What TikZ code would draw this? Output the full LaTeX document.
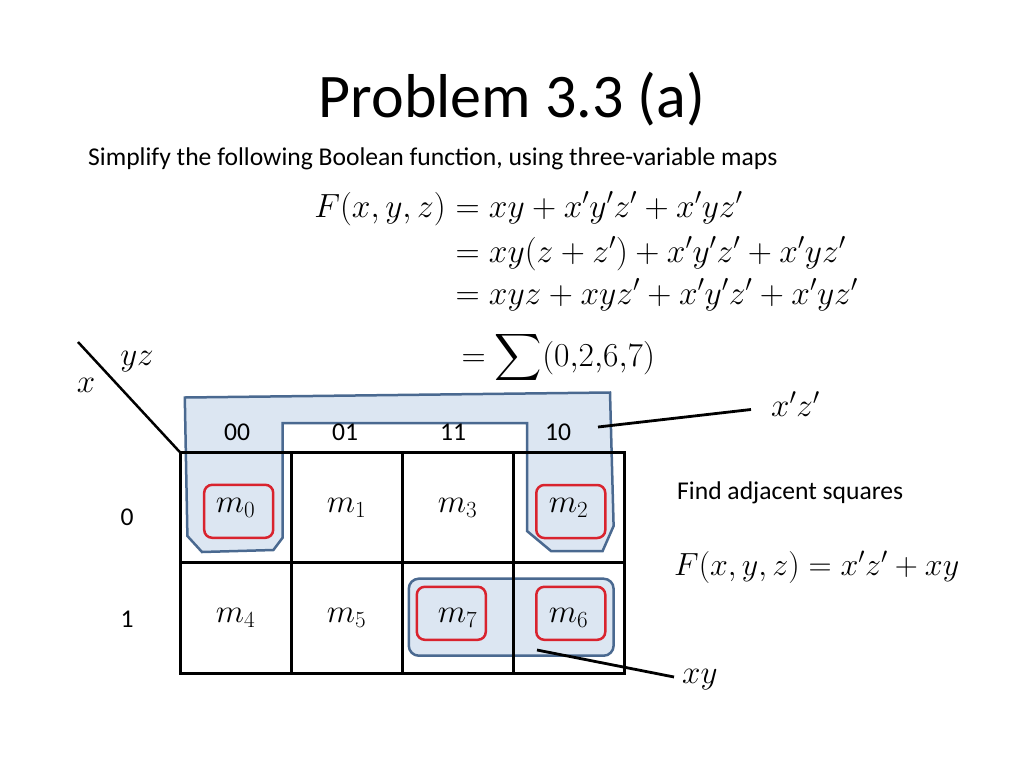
\RequirePackage{fix-cm}
\documentclass[tikz,border=0pt]{standalone}
\usepackage{amsmath}
\usepackage{graphicx}
\usepackage{fontspec}
\setmainfont{Carlito}
\usepackage{tikz}
\usetikzlibrary{positioning,calc}
\definecolor{kmapfill}{HTML}{DCE6F2}
\definecolor{kmapedge}{HTML}{4A6990}
\definecolor{kmapred}{HTML}{D9232E}
\newcommand{\titlefont}{\fontsize{62}{68}\selectfont}
\newcommand{\bodyfont}{\fontsize{25.6}{30}\selectfont}
\newcommand{\eqnfont}{\fontsize{33.5}{38}\selectfont}
\newcommand{\cellfont}{\fontsize{33}{38}\selectfont}
\newcommand{\bigsum}{\mathop{\vcenter{\hbox{\scalebox{1.32}{$\displaystyle\sum$}}}}}
\tikzset{
  cellbox/.style={
    draw=black,
    line width=3pt,
    minimum width=111pt,
    minimum height=110.5pt,
    inner sep=0pt,
    outer sep=0pt,
    font=\cellfont
  },
  minbox/.style={
    draw=kmapred,
    line width=2.5pt,
    rounded corners=8pt,
    minimum width=69pt,
    minimum height=53pt
  },
  groupbox/.style={
    draw=kmapedge,
    fill=kmapfill,
    line width=2.5pt,
    rounded corners=10pt
  },
  pointer/.style={
    line width=2.8pt,
    draw=black
  },
  plain/.style={
    inner sep=0pt,
    font=\bodyfont
  },
  eqn/.style={
    inner sep=0pt,
    font=\eqnfont
  }
}

\begin{document}
\begin{tikzpicture}[x=1pt,y=1pt,node distance=0pt]
\useasboundingbox (0,0) rectangle (1024,-768);
\fill[white] (0,0) rectangle (1024,-768);

% headings
\node[inner sep=0pt, font=\titlefont, anchor=base] (title) at (512,-117) {Problem 3.3 (a)};
\node[plain, anchor=base west] (task) at (88,-165) {Simplify the following Boolean function, using three-variable maps};

% derivation
\node[eqn, anchor=base east] (eqlhs) at (446,-217) {$F(x,y,z)$};
\node[eqn, anchor=base west] (eq1) at (446,-217) {${}= xy + x'y'z' + x'yz'$};
\node[eqn, anchor=base west] (eq2) at (446,-262) {${}= xy(z + z') + x'y'z' + x'yz'$};
\node[eqn, anchor=base west] (eq3) at (446,-304) {${}= xyz + xyz' + x'y'z' + x'yz'$};
\node[eqn, anchor=base west] (eq4) at (452,-366) {${}= \bigsum(0{,}2{,}6{,}7)$};

% groups behind the map
\draw[groupbox, rounded corners=0pt] (184.8,-397.5) -- (610,-392.5) -- (613.6,-526) -- (602.6,-551) -- (551,-551) -- (527,-531) -- (527,-423) -- (282.6,-423) -- (282.6,-537.7) -- (273.4,-550) -- (202,-552) -- (187.4,-536) -- cycle;
\node[groupbox, minimum width=204.8pt, minimum height=77pt] (grpxy) at (511.2,-617.2) {};

% map cells
\node[cellbox] (c0) at (235.5,-507.5) {$m_0$};
\node[cellbox, right=of c0] (c1) {$m_1$};
\node[cellbox, right=of c1] (c3) {$m_3$};
\node[cellbox, right=of c3] (c2) {$m_2$};
\node[cellbox, below=of c0] (c4) {$m_4$};
\node[cellbox, right=of c4] (c5) {$m_5$};
\node[cellbox, right=of c5] (c7) {$m_7$};
\node[cellbox, right=of c7] (c6) {$m_6$};

% chosen minterms
\node[minbox] (r0) at (238.7,-511.3) {};
\node[minbox] (r2) at (570.8,-511.5) {};
\node[minbox] (r7) at (451.3,-613.3) {};
\node[minbox] (r6) at (570.8,-613.3) {};

% map labels
\coordinate (diagtop) at (78,-342);
\draw[pointer, line width=2.5pt] (diagtop) -- (c0.north west);
\node[eqn, font=\cellfont] (lyz) at (137,-362) {$yz$};
\node[eqn, font=\cellfont] (lx) at (86,-385) {$x$};
\node[plain] (h0) at (237,-432) {00};
\node[plain] (h1) at (345,-432) {01};
\node[plain] (h3) at (453,-432) {11};
\node[plain] (h2) at (558,-432) {10};
\node[plain] (v0) at (127,-517) {0};
\node[plain] (v1) at (127,-619) {1};

% group names
\node[eqn, font=\cellfont, anchor=west] (xzlab) at (771,-404) {$x'z'$};
\coordinate (xzpt) at (598,-427);
\draw[pointer] (xzpt) -- ($(xzlab.west)+(-20,-5.5)$);
\node[eqn, font=\cellfont, anchor=west] (xylab) at (682,-680) {$xy$};
\coordinate (xypt) at (537,-650);
\draw[pointer] (xypt) -- ($(xylab.west)+(-8,3)$);

% result
\node[plain, anchor=base west] (hint) at (677,-499) {Find adjacent squares};
\node[eqn, font=\fontsize{32}{36}\selectfont, anchor=base west] (result) at (674,-575) {$F(x,y,z) = x'z' + xy$};
\end{tikzpicture}
\end{document}
